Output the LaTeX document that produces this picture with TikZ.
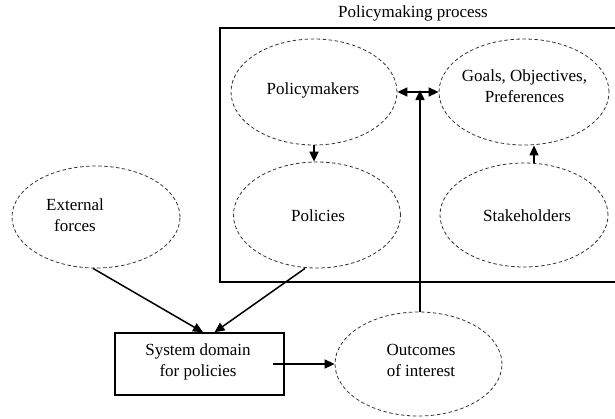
\documentclass[tikz,border=0pt]{standalone}
\usepackage{fontspec}
\setmainfont{Liberation Serif}
\usetikzlibrary{arrows.meta,shapes.geometric}

\begin{document}
\begin{tikzpicture}[x=1pt,y=-1pt,
  font=\fontsize{17}{21}\selectfont,
  cloud/.style={ellipse, draw=black!80, dashed, dash pattern=on 3.5pt off 2.5pt,
    line width=0.8pt, inner sep=0pt},
  txt/.style={align=center, inner sep=0pt},
  frame/.style={draw, line width=1.5pt},
  link/.style={line width=1.5pt, -{Triangle[length=10pt,width=9pt]}},
  twolink/.style={line width=1.5pt, {Triangle[length=10pt,width=9pt]}-{Triangle[length=10pt,width=9pt]}}
]
\useasboundingbox (0,0) rectangle (615,418);
\clip (0,0) rectangle (615,418);

% policymaking process frame
\node[txt] (title) at (413,13) {Policymaking process};
\draw[frame] (220,28) rectangle (625,282);

% actors and aims inside the process
\node[cloud, minimum width=166pt, minimum height=106pt] (pm) at (314,92) {};
\node[txt] (pmtext) at (313,90) {Policymakers};
\node[cloud, minimum width=170pt, minimum height=106pt] (goals) at (524,92) {};
\node[txt] (goalstext) at (524.5,86) {Goals, Objectives,\\Preferences};
\node[cloud, minimum width=167pt, minimum height=106pt] (pol) at (317,215) {};
\node[txt] (poltext) at (318,216) {Policies};
\node[cloud, minimum width=168pt, minimum height=104pt] (stake) at (524,215) {};
\node[txt] (staketext) at (527,216) {Stakeholders};

% system outside the process
\node[cloud, minimum width=168pt, minimum height=102pt] (ext) at (96,217) {};
\node[txt] (exttext) at (75,215) {External\\forces};
\node[frame, minimum width=169pt, minimum height=62pt, inner sep=0pt] (sys) at (199.5,364) {};
\node[txt] (systext) at (198,362) {System domain\\for policies};
\node[cloud, minimum width=167pt, minimum height=104pt] (out) at (418.5,364) {};
\node[txt] (outtext) at (421,360) {Outcomes\\of interest};

% connectors
\draw[link] (pm.south) -- (pm.south |- pol.north);
\draw[link] ([xshift=10pt]stake.north) -- ([xshift=10pt]stake.north |- goals.south);
\draw[twolink] (pm.east) -- (goals.west);
\draw[link] ([xshift=1.5pt]out.north) -- ([xshift=1.5pt,yshift=2pt]out.north |- pm.east);
\draw[link] ([xshift=-3pt]ext.south) -- ([xshift=3.5pt]sys.north);
\draw[link] ([xshift=-12pt]pol.south) -- ([xshift=15pt]sys.north);
\draw[link] ([xshift=-12pt]sys.east) -- (out.west);
\end{tikzpicture}
\end{document}
